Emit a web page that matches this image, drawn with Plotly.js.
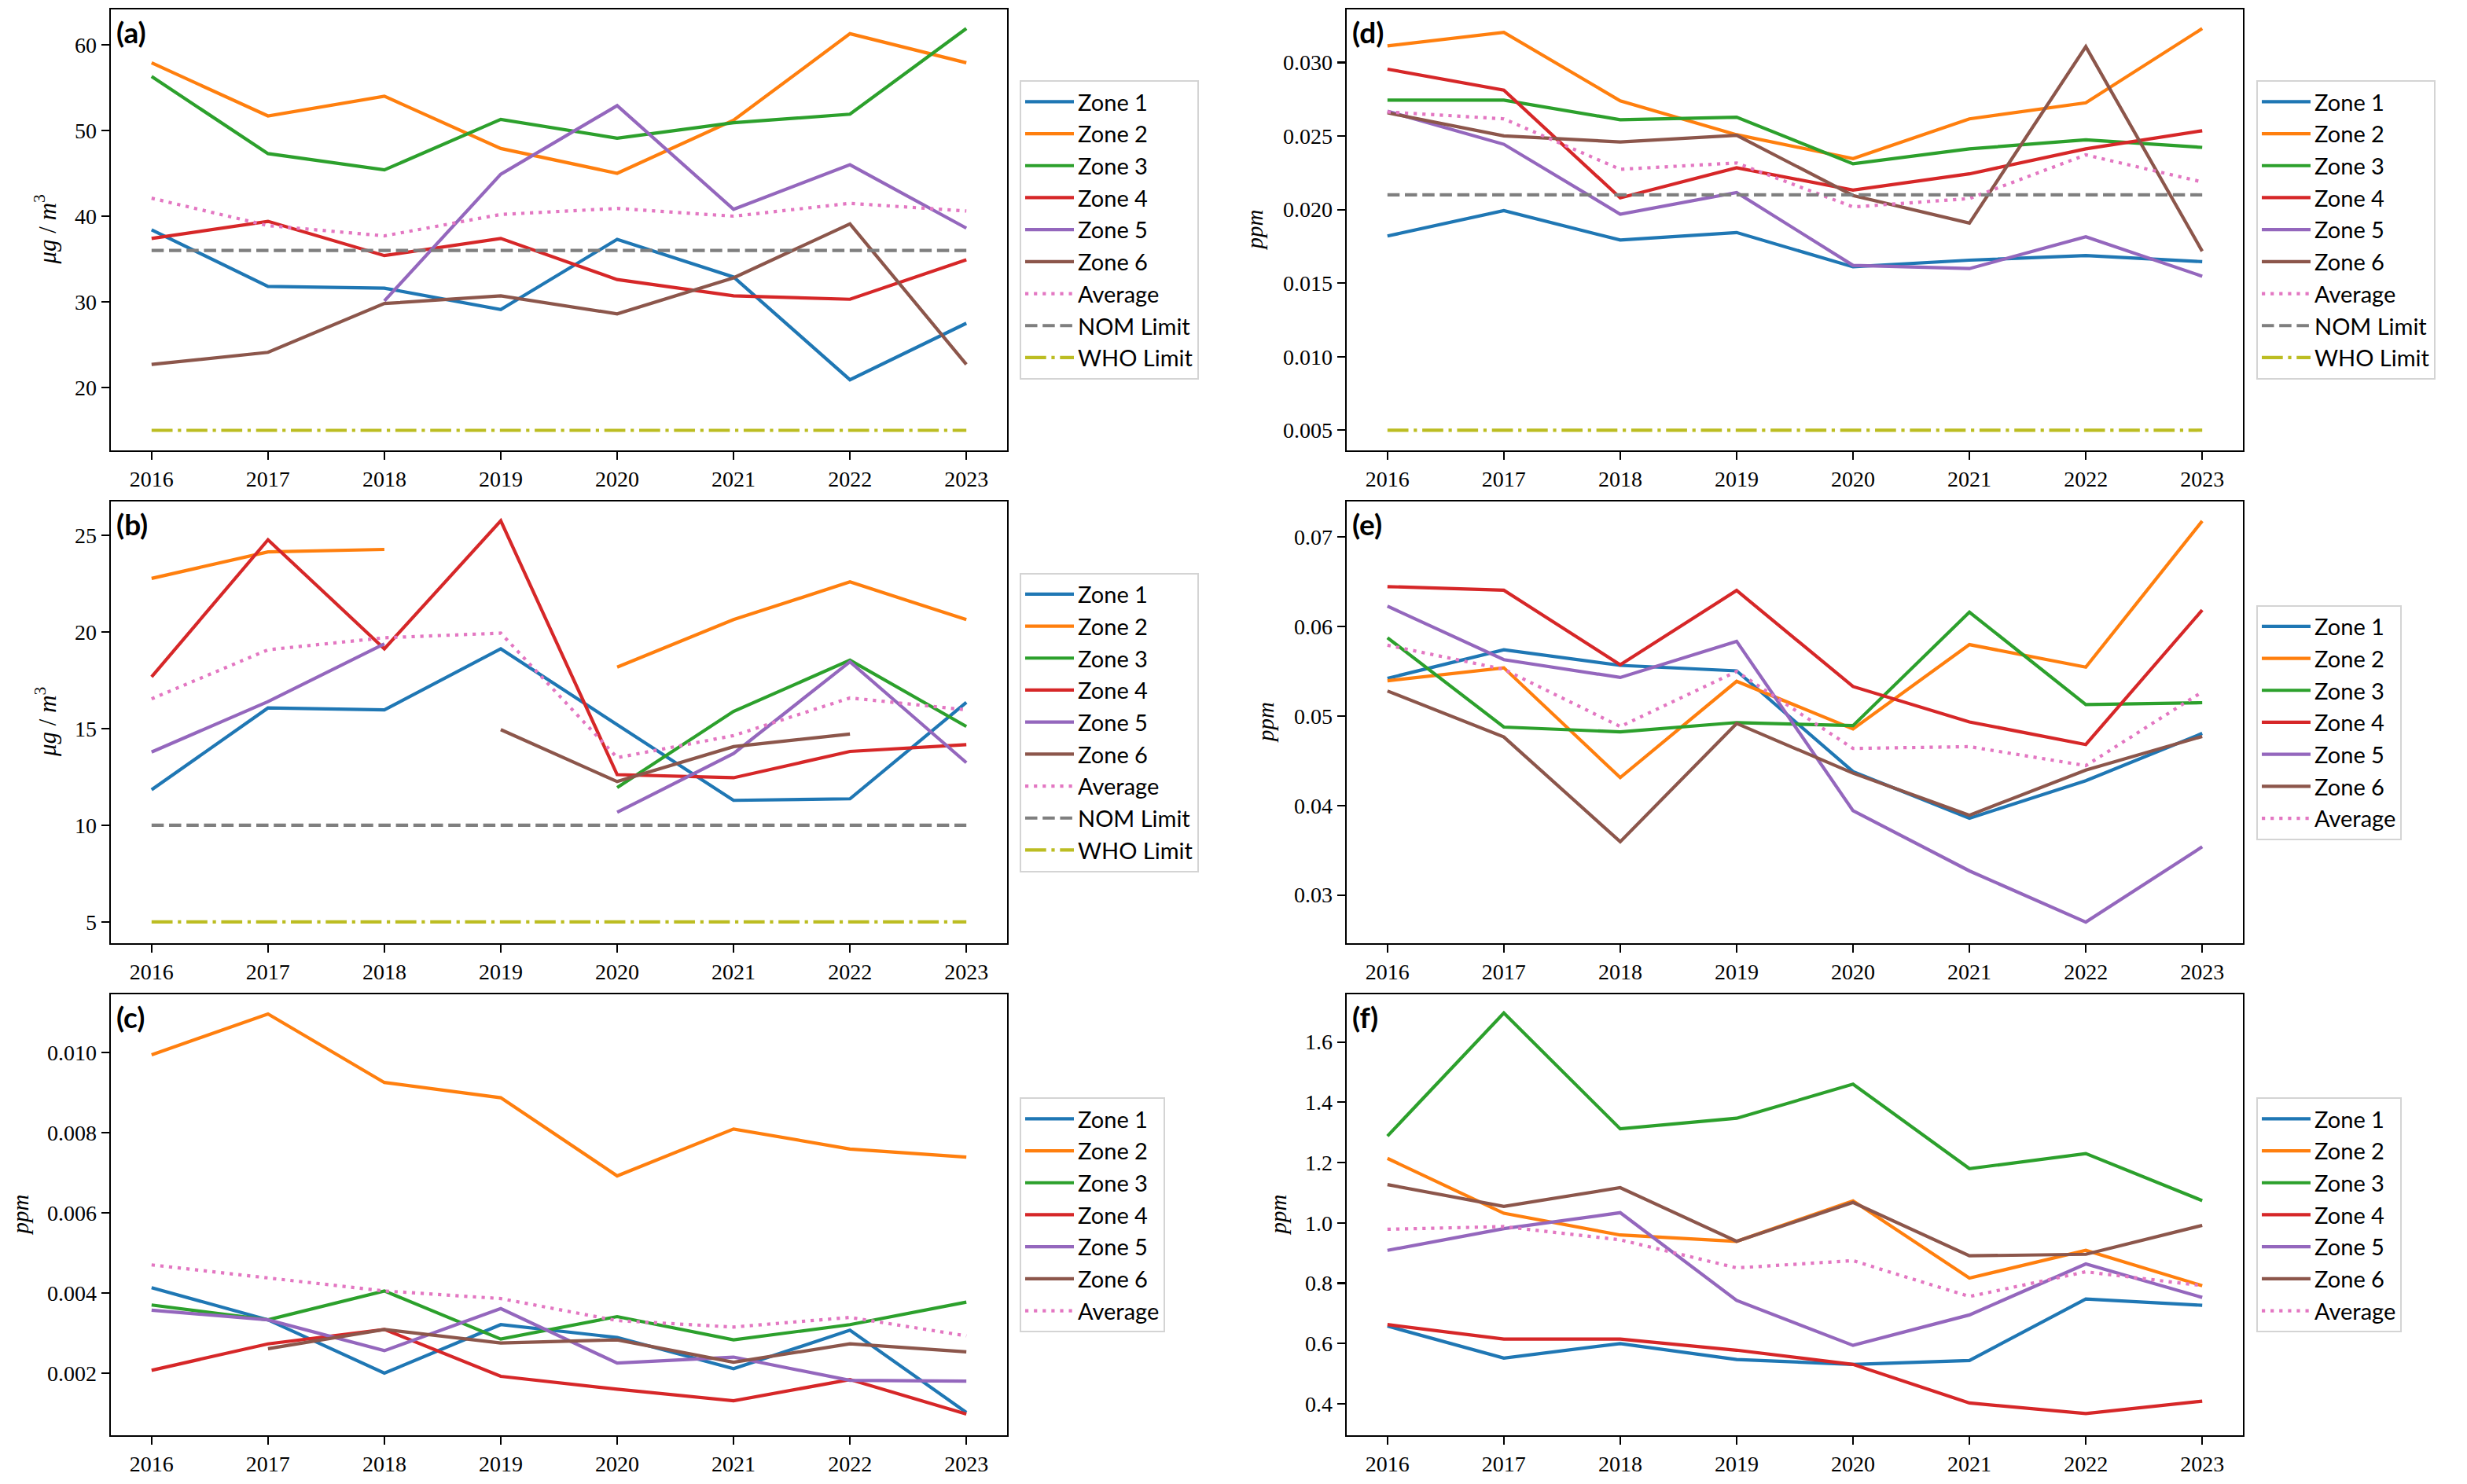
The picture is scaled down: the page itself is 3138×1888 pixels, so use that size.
<!DOCTYPE html>
<html>
<head>
<meta charset="utf-8">
<script src="https://cdn.plot.ly/plotly-3.0.1.min.js"></script>
<style>html,body{margin:0;padding:0;background:#fff;} #chart{width:3138px;height:1888px;}</style>
</head>
<body>
<div id="chart"></div>
<script>
const years = [2016, 2017, 2018, 2019, 2020, 2021, 2022, 2023];
const zoneNames = ["Zone 1", "Zone 2", "Zone 3", "Zone 4", "Zone 5", "Zone 6"];

// (a) μg/m3
const aZones = [
  [38.4, 31.8, 31.6, 29.1, 37.3, 32.9, 20.9, 27.5],
  [57.9, 51.7, 54.0, 47.9, 45.0, 51.2, 61.3, 57.9],
  [56.3, 47.3, 45.4, 51.3, 49.1, 50.9, 51.9, 61.9],
  [37.4, 39.4, 35.4, 37.4, 32.6, 30.7, 30.3, 34.9],
  [null, null, 30.1, 44.9, 52.9, 40.8, 46.0, 38.6],
  [22.7, 24.1, 29.8, 30.7, 28.6, 32.8, 39.1, 22.7]
];
const aAvg = [42.1, 38.9, 37.7, 40.2, 40.9, 40.0, 41.5, 40.6];
const aLimits = [36, 15];

// (b) μg/m3
const bZones = [
  [11.84, 16.07, 15.97, 19.13, 15.2, 11.29, 11.37, 16.36],
  [22.77, 24.14, 24.27, null, 18.18, 20.64, 22.59, 20.64],
  [null, null, null, null, 11.95, 15.89, 18.54, 15.11],
  [17.68, 24.77, 19.13, 25.75, 12.62, 12.46, 13.82, 14.17],
  [13.79, 16.4, 19.39, null, 10.67, 13.71, 18.46, 13.24],
  [null, null, null, 14.95, 12.26, 14.07, 14.72, null]
];
const bAvg = [16.54, 19.08, 19.7, 19.94, 13.5, 14.64, 16.59, 15.97];
const bLimits = [10, 5];

// (c) ppm
const cZones = [
  [0.00413, 0.00333, 0.00200, 0.00321, 0.00289, 0.00211, 0.00307, 0.00102],
  [0.00994, 0.01096, 0.00925, 0.00887, 0.00692, 0.00809, 0.00759, 0.00739],
  [0.00370, 0.00333, 0.00405, 0.00285, 0.00341, 0.00283, 0.00321, 0.00377],
  [0.00207, 0.00273, 0.00309, 0.00192, 0.00160, 0.00131, 0.00184, 0.00098],
  [0.00357, 0.00333, 0.00256, 0.00361, 0.00225, 0.00240, 0.00182, 0.00180],
  [null, 0.00261, 0.00309, 0.00275, 0.00283, 0.00227, 0.00273, 0.00253]
];
const cAvg = [0.00470, 0.00437, 0.00405, 0.00386, 0.00331, 0.00315, 0.00339, 0.00293];

// (d) ppm
const dZones = [
  [0.01820, 0.01993, 0.01793, 0.01844, 0.01611, 0.01656, 0.01687, 0.01646],
  [0.03113, 0.03205, 0.02740, 0.02509, 0.02347, 0.02617, 0.02726, 0.03231],
  [0.02744, 0.02744, 0.02611, 0.02628, 0.02311, 0.02413, 0.02474, 0.02423],
  [0.02955, 0.02812, 0.02080, 0.02284, 0.02133, 0.02243, 0.02413, 0.02536],
  [0.02669, 0.02444, 0.01969, 0.02116, 0.01621, 0.01599, 0.01815, 0.01547],
  [0.02658, 0.02501, 0.02460, 0.02505, 0.02096, 0.01908, 0.03108, 0.01717]
];
const dAvg = [0.02664, 0.02617, 0.02274, 0.02317, 0.02018, 0.02075, 0.02372, 0.02188];
const dLimits = [0.021, 0.005];

// (e) ppm
const eZones = [
  [0.05420, 0.05740, 0.05565, 0.05504, 0.04378, 0.03857, 0.04277, 0.04805],
  [0.05393, 0.05538, 0.04311, 0.05387, 0.04855, 0.05797, 0.05545, 0.07178],
  [0.05874, 0.04876, 0.04822, 0.04926, 0.04892, 0.06160, 0.05128, 0.05148],
  [0.06445, 0.06405, 0.05571, 0.06402, 0.05329, 0.04933, 0.04681, 0.06183],
  [0.06227, 0.05629, 0.05430, 0.05834, 0.03941, 0.03269, 0.02697, 0.03538],
  [0.05279, 0.04765, 0.03595, 0.04916, 0.04361, 0.03891, 0.04395, 0.04771]
];
const eAvg = [0.05790, 0.05521, 0.04882, 0.05497, 0.04637, 0.04657, 0.04445, 0.05269];

// (f) ppm
const fZones = [
  [0.658, 0.552, 0.600, 0.547, 0.531, 0.544, 0.748, 0.727],
  [1.214, 1.032, 0.960, 0.939, 1.073, 0.817, 0.909, 0.792],
  [1.288, 1.696, 1.312, 1.347, 1.460, 1.180, 1.230, 1.074],
  [0.663, 0.615, 0.615, 0.578, 0.531, 0.403, 0.368, 0.409],
  [0.909, 0.981, 1.034, 0.743, 0.594, 0.695, 0.864, 0.753],
  [1.127, 1.055, 1.117, 0.939, 1.068, 0.891, 0.896, 0.992]
];
const fAvg = [0.979, 0.988, 0.944, 0.851, 0.875, 0.756, 0.838, 0.792];

const panelLabels = ["(a)", "(b)", "(c)", "(d)", "(e)", "(f)"];
const yTitles = ["<i>μg</i> / <i>m</i><sup>3</sup>", "<i>μg</i> / <i>m</i><sup>3</sup>", "<i>ppm</i>", "<i>ppm</i>", "<i>ppm</i>", "<i>ppm</i>"];

// ---- styling / layout ----
const W = 3138, H = 1888;
const zoneColors = ["#1f77b4", "#ff7f0e", "#2ca02c", "#d62728", "#9467bd", "#8c564b"];
const avgColor = "#e377c2", nomColor = "#7f7f7f", whoColor = "#bcbd22";
const LW = 4.2;
const tickFont = {family: "Liberation Serif, Times New Roman, serif", size: 28, color: "#000"};

const panels = [
  {zones: aZones, avg: aAvg, limits: aLimits, col: 0, row: 0, range: [12.66, 64.13], dtick: 10, fmt: "d"},
  {zones: bZones, avg: bAvg, limits: bLimits, col: 0, row: 1, range: [3.90, 26.75], dtick: 5, fmt: "d"},
  {zones: cZones, avg: cAvg, limits: null, col: 0, row: 2, range: [0.00045, 0.01145], dtick: 0.002, fmt: ".3f"},
  {zones: dZones, avg: dAvg, limits: dLimits, col: 1, row: 0, range: [0.003626, 0.03361], dtick: 0.005, fmt: ".3f"},
  {zones: eZones, avg: eAvg, limits: null, col: 1, row: 1, range: [0.02461, 0.07396], dtick: 0.01, fmt: ".2f"},
  {zones: fZones, avg: fAvg, limits: null, col: 1, row: 2, range: [0.296, 1.758], dtick: 0.2, fmt: ".1f"}
];

const colX = [[141, 1281], [1713, 2853]];
const rowY = [[12, 573], [638, 1200], [1265, 1826]];
const legendX = [1297, 2870];
const yTitleX = [[58, 58, 25], [1595, 1610, 1625]];

const traces = [];
const layout = {
  width: W, height: H,
  margin: {l: 0, r: 0, t: 0, b: 0, pad: 0},
  paper_bgcolor: "#fff", plot_bgcolor: "#fff",
  showlegend: true,
  annotations: []
};

panels.forEach((p, i) => {
  const n = i + 1;
  const xa = n === 1 ? "x" : "x" + n;
  const ya = n === 1 ? "y" : "y" + n;
  const lg = n === 1 ? "legend" : "legend" + n;
  p.zones.forEach((vals, z) => {
    traces.push({
      x: years, y: vals, type: "scatter", mode: "lines", name: zoneNames[z],
      line: {color: zoneColors[z], width: LW}, xaxis: xa, yaxis: ya, legend: lg,
      connectgaps: false
    });
  });
  traces.push({
    x: years, y: p.avg, type: "scatter", mode: "lines", name: "Average",
    line: {color: avgColor, width: LW, dash: "4.2px,6.9px"}, xaxis: xa, yaxis: ya, legend: lg
  });
  if (p.limits) {
    traces.push({
      x: years, y: years.map(() => p.limits[0]), type: "scatter", mode: "lines", name: "NOM Limit",
      line: {color: nomColor, width: LW, dash: "15.5px,6.7px"}, xaxis: xa, yaxis: ya, legend: lg
    });
    traces.push({
      x: years, y: years.map(() => p.limits[1]), type: "scatter", mode: "lines", name: "WHO Limit",
      line: {color: whoColor, width: LW, dash: "26.7px,6.7px,4.2px,6.7px"}, xaxis: xa, yaxis: ya, legend: lg
    });
  }
  const xd = colX[p.col], yd = rowY[p.row];
  const axisCommon = {
    showline: true, mirror: true, linecolor: "#000", linewidth: 2.4,
    ticks: "outside", ticklen: 10, tickwidth: 2.2, tickcolor: "#000",
    showgrid: false, zeroline: false, tickfont: tickFont, automargin: false, fixedrange: true
  };
  layout["xaxis" + (n === 1 ? "" : n)] = Object.assign({}, axisCommon, {
    domain: [xd[0] / W, xd[1] / W], anchor: ya, range: [2015.65, 2023.35],
    tickmode: "array", tickvals: years, ticktext: years.map(String)
  });
  layout["yaxis" + (n === 1 ? "" : n)] = Object.assign({}, axisCommon, {
    domain: [1 - yd[1] / H, 1 - yd[0] / H], anchor: xa, range: p.range,
    dtick: p.dtick, tick0: 0, tickformat: p.fmt
  });
  layout[lg] = {
    x: legendX[p.col] / W, xanchor: "left",
    y: 1 - ((yd[0] + yd[1]) / 2) / H, yanchor: "middle",
    bgcolor: "rgba(255,255,255,0.8)", bordercolor: "#d4d4d4", borderwidth: 2,
    font: {family: "Lato, Open Sans, sans-serif", size: 29, color: "#000"},
    itemwidth: 62, tracegroupgap: 0
  };
  layout.annotations.push({
    xref: xa + " domain", yref: ya + " domain", x: 0.004, y: 0.993,
    xanchor: "left", yanchor: "top", showarrow: false,
    text: "<b>" + panelLabels[i] + "</b>",
    font: {family: "Lato, DejaVu Sans, sans-serif", size: 37, color: "#000"}
  });
  layout.annotations.push({
    xref: "paper", yref: "paper", x: yTitleX[p.col][p.row] / W, y: 1 - ((yd[0] + yd[1]) / 2) / H,
    xanchor: "center", yanchor: "middle", showarrow: false, textangle: -90,
    text: yTitles[i],
    font: {family: "Liberation Serif, Times New Roman, serif", size: p.col === 0 && p.row < 2 ? 31 : 29, color: "#000"}
  });
});

Plotly.newPlot("chart", traces, layout, {staticPlot: true, displayModeBar: false});
</script>
</body>
</html>
